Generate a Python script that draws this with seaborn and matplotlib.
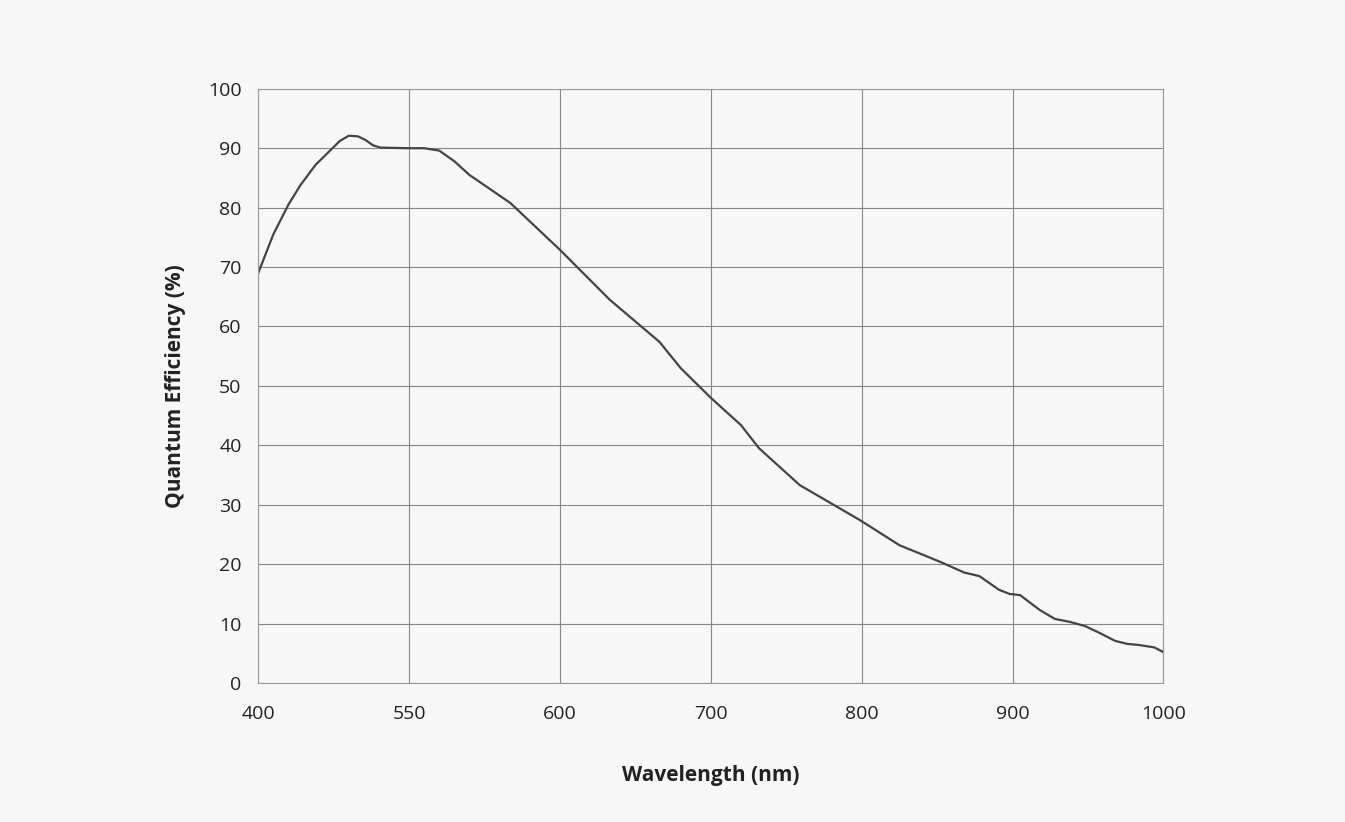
import matplotlib
matplotlib.use("Agg")
import matplotlib.pyplot as plt
import seaborn as sns
import pandas as pd

tick_labels = ["400", "550", "600", "700", "800", "900", "1000"]
# x expressed in axis-tick units (0..6), since the reference axis spacing is by tick
pos = [0, 0.1, 0.2, 0.28, 0.38, 0.48, 0.54, 0.6, 0.66, 0.71, 0.76, 0.81, 1.0, 1.1, 1.2,
       1.3, 1.4, 1.67, 2.0, 2.33, 2.66, 2.8, 3.0, 3.2, 3.32, 3.59, 3.99, 4.25, 4.52,
       4.68, 4.78, 4.91, 4.98, 5.05, 5.18, 5.28, 5.38, 5.48, 5.58, 5.68, 5.76, 5.84,
       5.94, 6.0]
qe = [69, 75.5, 80.5, 83.8, 87.2, 89.7, 91.2, 92.1, 92.0, 91.4, 90.5, 90.1, 90.0, 90.0,
      89.6, 87.8, 85.5, 80.8, 72.9, 64.5, 57.4, 53, 48, 43.4, 39.5, 33.3, 27.4, 23.2,
      20.4, 18.6, 18.0, 15.7, 15.0, 14.8, 12.3, 10.8, 10.3, 9.6, 8.4, 7.1, 6.6, 6.4,
      6.0, 5.2]

df = pd.DataFrame({"pos": pos, "qe": qe})
bg = "#f7f7f7"
plt.rcParams["font.family"] = "Open Sans"
fig = plt.figure(figsize=(13.45, 8.22), dpi=100, facecolor=bg)
ax = fig.add_axes([0.192, 0.169, 0.673, 0.723], facecolor=bg)
sns.lineplot(data=df, x="pos", y="qe", ax=ax, color="#444444", linewidth=1.6)
for l in ax.get_lines():
    l.set_solid_joinstyle("round")
ax.set_xlim(0, 6)
ax.set_ylim(0, 100)
ax.set_xticks(range(7))
ax.set_xticklabels(tick_labels)
ax.set_yticks(range(0, 101, 10))
ax.grid(True, color="#888888", linewidth=0.8)
for s in ax.spines.values():
    s.set_color("#999999"); s.set_linewidth(0.8)
ax.tick_params(axis="x", pad=16)
ax.tick_params(axis="y", pad=12)
ax.tick_params(length=0, labelsize=14, colors="#222222")
ax.set_xlabel("Wavelength (nm)", fontsize=15, fontweight="bold", labelpad=30, color="#222222")
ax.set_ylabel("Quantum Efficiency (%)", fontsize=15, fontweight="bold", labelpad=16, color="#222222")
fig.savefig("out.png", dpi=100, facecolor=bg)
